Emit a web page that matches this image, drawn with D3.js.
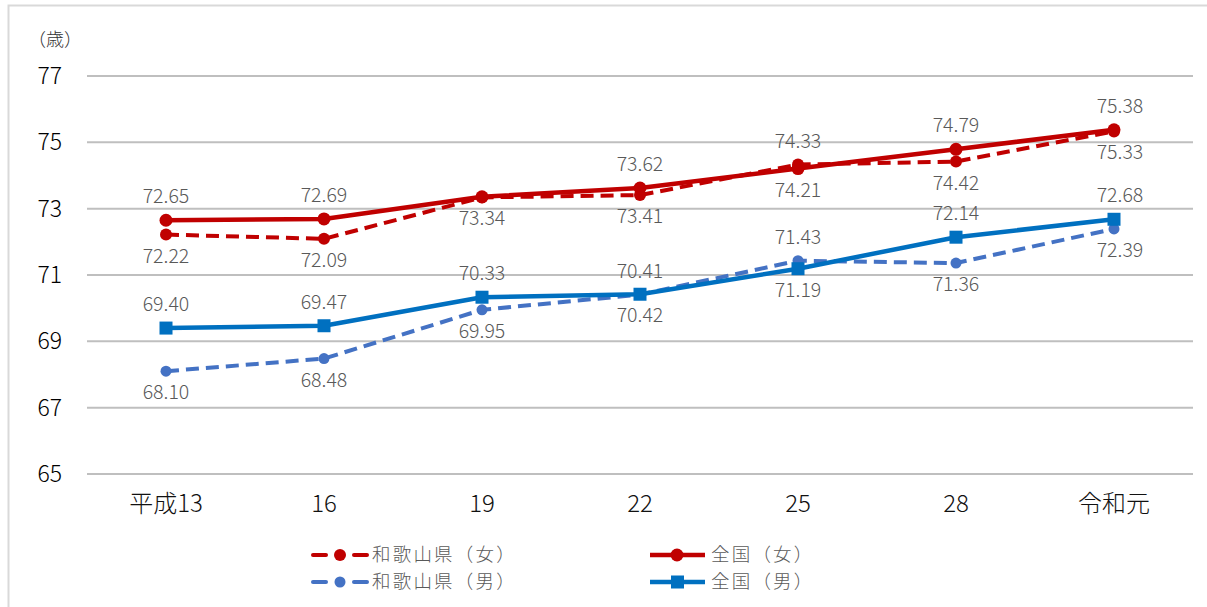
<!DOCTYPE html>
<html>
<head>
<meta charset="utf-8">
<script src="https://cdn.jsdelivr.net/npm/d3@7"></script>
<style>
  html, body { margin: 0; padding: 0; background: #fff; }
  svg { display: block; }
  text { font-family: "Noto Sans CJK JP", "Noto Sans", sans-serif; font-weight: 300; }
</style>
</head>
<body>
<svg id="chart" width="1207" height="607"></svg>
<script>
// Healthy life expectancy (years): Wakayama prefecture vs. national
const categories = ["平成13", "16", "19", "22", "25", "28", "令和元"];
const yTicks = [65, 67, 69, 71, 73, 75, 77];

const wakayamaFemale = [72.22, 72.09, 73.34, 73.41, 74.33, 74.42, 75.33];
const nationalFemale = [72.65, 72.69, 73.36, 73.62, 74.21, 74.79, 75.38];
const wakayamaMale   = [68.10, 68.48, 69.95, 70.41, 71.43, 71.36, 72.39];
const nationalMale   = [69.40, 69.47, 70.33, 70.42, 71.19, 72.14, 72.68];

// label side per point: "a" above, "b" below, null = no label
const wakayamaFemalePos = ["b", "b", "b", "b", "a", "b", "b"];
const nationalFemalePos = ["a", "a", null, "a", "b", "a", "a"];
const wakayamaMalePos   = ["b", "b", "b", "a", "a", "b", "b"];
const nationalMalePos   = ["a", "a", "a", "b", "b", "a", "a"];

const series = [
  { name: "和歌山県（女）", values: wakayamaFemale, pos: wakayamaFemalePos, color: "#C00000", dash: "13,7", marker: "circle", r: 6 },
  { name: "和歌山県（男）", values: wakayamaMale,   pos: wakayamaMalePos,   color: "#4472C4", dash: "13,7", marker: "circle", r: 5.5 },
  { name: "全国（女）",     values: nationalFemale, pos: nationalFemalePos, color: "#C00000", dash: null,   marker: "circle", r: 6.5 },
  { name: "全国（男）",     values: nationalMale,   pos: nationalMalePos,   color: "#0070C0", dash: null,   marker: "square", r: 6.5 }
];

const svg = d3.select("#chart");

// outer frame
svg.append("rect")
  .attr("x", 8.5).attr("y", 5.5)
  .attr("width", 1230).attr("height", 640)
  .attr("fill", "none").attr("stroke", "#d9d9d9").attr("stroke-width", 2);

const plot = { left: 87, right: 1193, top: 76, bottom: 474 };

const x = d3.scaleBand().domain(categories).range([plot.left, plot.right]);
const cx = c => x(c) + x.bandwidth() / 2;
const y = d3.scaleLinear().domain([65, 77]).range([plot.bottom, plot.top]);

// gridlines
svg.append("g")
  .selectAll("line")
  .data(yTicks)
  .join("line")
  .attr("x1", plot.left).attr("x2", plot.right)
  .attr("y1", d => y(d)).attr("y2", d => y(d))
  .attr("stroke", "#bfbfbf").attr("stroke-width", 2);

// y axis labels
const yAxis = svg.append("g")
  .attr("transform", `translate(62,0)`)
  .call(d3.axisLeft(y).tickValues(yTicks).tickSize(0).tickPadding(0));
yAxis.select(".domain").remove();
yAxis.selectAll("text")
  .attr("font-size", 23).attr("fill", "#000")
  .style("font-family", "'Noto Sans CJK JP', sans-serif")
  .style("font-weight", 300);

// unit label
svg.append("text")
  .attr("x", 28).attr("y", 46)
  .attr("font-size", 18).attr("fill", "#333")
  .text("（歳）");

// x axis labels
const xAxis = svg.append("g")
  .attr("transform", `translate(0,${plot.bottom})`)
  .call(d3.axisBottom(x).tickSize(0).tickPadding(21));
xAxis.select(".domain").remove();
xAxis.selectAll("text")
  .attr("font-size", 24).attr("fill", "#111")
  .style("font-family", "'Noto Sans CJK JP', sans-serif")
  .style("font-weight", 300);

const line = d3.line()
  .x((d, i) => cx(categories[i]))
  .y(d => y(d));

// dashed series first, solid series drawn over them
series.forEach(s => {
  const g = svg.append("g");
  g.append("path")
    .datum(s.values)
    .attr("d", line)
    .attr("fill", "none")
    .attr("stroke", s.color)
    .attr("stroke-width", s.dash ? 4 : 4.5)
    .attr("stroke-dasharray", s.dash)
    .attr("stroke-linejoin", "round");
  if (s.marker === "square") {
    g.selectAll("rect")
      .data(s.values)
      .join("rect")
      .attr("x", (d, i) => cx(categories[i]) - s.r)
      .attr("y", d => y(d) - s.r)
      .attr("width", s.r * 2).attr("height", s.r * 2)
      .attr("fill", s.color);
  } else {
    g.selectAll("circle")
      .data(s.values)
      .join("circle")
      .attr("cx", (d, i) => cx(categories[i]))
      .attr("cy", d => y(d))
      .attr("r", s.r)
      .attr("fill", s.color);
  }
});

// data labels
series.forEach(s => {
  svg.append("g")
    .selectAll("text")
    .data(s.values.map((v, i) => ({ v, i, p: s.pos[i] })).filter(d => d.p))
    .join("text")
    .attr("x", d => cx(categories[d.i]) + (d.i === 6 ? 6 : 0))
    .attr("y", d => y(d.v) + (d.p === "a" ? -17 : 28))
    .attr("text-anchor", "middle")
    .attr("font-size", 19.5)
    .attr("fill", "#595959")
    .text(d => d.v.toFixed(2));
});

// legend
const legendItems = [
  { s: series[0], x: 313, y: 555 },
  { s: series[1], x: 313, y: 582 },
  { s: series[2], x: 650, y: 555 },
  { s: series[3], x: 650, y: 582 }
];
const legend = svg.append("g");
legendItems.forEach(it => {
  const s = it.s;
  const g = legend.append("g").attr("transform", `translate(${it.x},${it.y})`);
  if (s.dash) {
    [[0, 13], [41, 54]].forEach(([a, b]) => {
      g.append("line")
        .attr("x1", a).attr("x2", b).attr("y1", 0).attr("y2", 0)
        .attr("stroke", s.color).attr("stroke-width", 4).attr("stroke-linecap", "round");
    });
  } else {
    g.append("line")
      .attr("x1", 0).attr("x2", 55).attr("y1", 0).attr("y2", 0)
      .attr("stroke", s.color).attr("stroke-width", 4.5);
  }
  if (s.marker === "square") {
    g.append("rect").attr("x", 27.5 - s.r).attr("y", -s.r)
      .attr("width", s.r * 2).attr("height", s.r * 2).attr("fill", s.color);
  } else {
    g.append("circle").attr("cx", 27).attr("cy", 0).attr("r", s.r).attr("fill", s.color);
  }
  g.append("text")
    .attr("x", s.dash ? 59 : 61).attr("y", 0)
    .attr("dy", "0.35em")
    .attr("font-size", 18.5)
    .attr("letter-spacing", 2.2)
    .attr("fill", "#595959")
    .text(s.name);
});
</script>
</body>
</html>
